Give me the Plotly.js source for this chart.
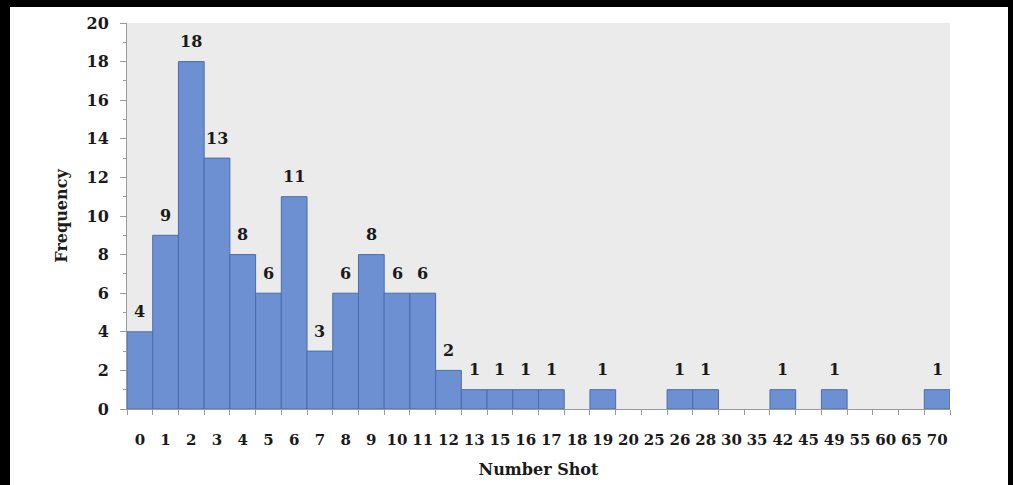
<!DOCTYPE html>
<html>
<head>
<meta charset="utf-8">
<script src="https://cdn.plot.ly/plotly-3.0.1.min.js"></script>
<style>
  html, body { margin: 0; padding: 0; background: #000; width: 1013px; height: 485px; overflow: hidden; }
  #chart { position: absolute; left: 10px; top: 7px; width: 998px; height: 478px; background: #fff; }
</style>
</head>
<body>
<div id="chart"></div>
<script>
const categories = ['0','1','2','3','4','5','6','7','8','9','10','11','12','13','15','16','17','18','19','20','25','26','28','30','35','42','45','49','55','60','65','70'];
const frequency = [4,9,18,13,8,6,11,3,6,8,6,6,2,1,1,1,1,0,1,0,0,1,1,0,0,1,0,1,0,0,0,1];
const yTicks = [0,2,4,6,8,10,12,14,16,18,20];

const FONT = 'DejaVu Serif';

const annotations = [];
categories.forEach((c, i) => {
  if (frequency[i] > 0) {
    annotations.push({
      x: i, y: frequency[i], xref: 'x', yref: 'y',
      text: '<b>' + frequency[i] + '</b>', showarrow: false,
      yanchor: 'middle', yshift: 20,
      font: { family: FONT, size: 16, color: '#1a1a1a' }
    });
  }
});

const trace = {
  type: 'bar',
  x: categories.map((c, i) => i),
  y: frequency,
  marker: { color: '#6c90d1', line: { color: '#4a6dab', width: frequency.map(v => v > 0 ? 1 : 0) } },
  hoverinfo: 'none'
};

const layout = {
  width: 998, height: 478,
  margin: { l: 117, r: 58, t: 16, b: 76 },
  paper_bgcolor: '#ffffff',
  plot_bgcolor: '#ebebeb',
  bargap: 0,
  showlegend: false,
  xaxis: {
    type: 'linear',
    range: [-0.5, categories.length - 0.5],
    tickmode: 'array',
    tickvals: categories.map((c, i) => i),
    ticktext: categories,
    tickangle: 0,
    ticklabelstandoff: 17,
    showgrid: false, zeroline: false,
    showline: true, linecolor: '#9a9a9a', linewidth: 1,
    ticks: '',
    minor: { tickmode: 'array', tickvals: categories.map((c, i) => i - 0.5).concat([categories.length - 0.5]), ticks: 'outside', ticklen: 5, tickcolor: '#9a9a9a', showgrid: false },
    tickfont: { family: FONT, size: 15, color: '#1a1a1a', weight: 'bold' },
    title: { text: '<b>Number Shot</b>', font: { family: FONT, size: 16, color: '#1a1a1a' }, standoff: 15 },
    automargin: false
  },
  yaxis: {
    range: [0, 20],
    tickvals: yTicks,
    ticktext: yTicks.map(String),
    ticklabelstandoff: 8,
    showgrid: false, zeroline: false,
    showline: true, linecolor: '#9a9a9a', linewidth: 1,
    ticks: 'outside', ticklen: 6, tickcolor: '#9a9a9a',
    minor: { dtick: 1, ticks: 'outside', ticklen: 3, tickcolor: '#9a9a9a', showgrid: false },
    tickfont: { family: FONT, size: 16, color: '#1a1a1a', weight: 'bold' },
    title: { text: '<b>Frequency</b>', font: { family: FONT, size: 16, color: '#1a1a1a' }, standoff: 14 },
    automargin: false
  },
  annotations: annotations
};

Plotly.newPlot('chart', [trace], layout, { displayModeBar: false, staticPlot: true });
</script>
</body>
</html>
